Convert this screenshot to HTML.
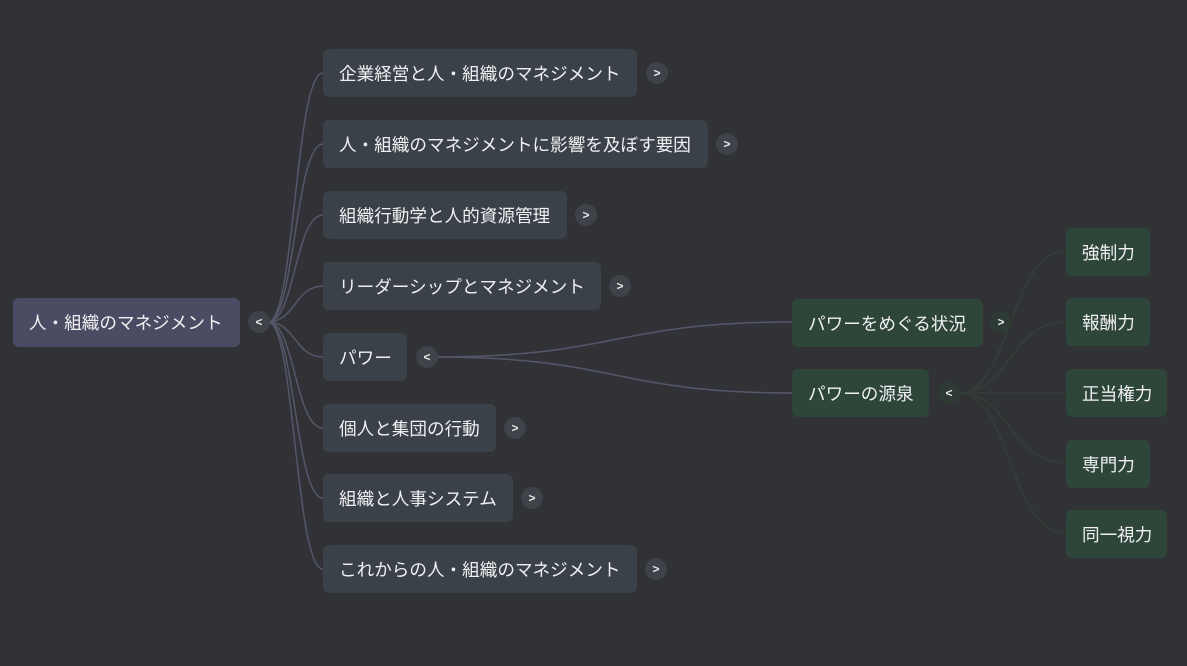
<!DOCTYPE html>
<html><head><meta charset="utf-8"><style>
html,body{margin:0;padding:0;background:#313236;width:1187px;height:666px;overflow:hidden}
body{position:relative;font-family:"Liberation Sans","Noto Sans CJK JP",sans-serif;color:#f0f0f2}
.n{position:absolute;height:48px;line-height:50px;border-radius:6px;font-size:17.6px;box-sizing:border-box;padding-left:16px;white-space:nowrap}
.r{background:#4b4b64}
.a{background:#3b4149}
.g{background:#2e463a}
.b{position:absolute;width:22px;height:22px;border-radius:50%;background:#404249;color:#e8e8ea;font-size:12px;font-weight:bold;text-align:center;line-height:22px;margin:-11px 0 0 -11px}
.bg{background:#2e3b34}
svg{position:absolute;left:0;top:0}
</style></head><body>
<svg width="1187" height="666">
<g fill="none" stroke="#56566a" stroke-width="1.5">
<path d="M268 322 C295 322,295 73,323 73"/>
<path d="M268 322 C295 322,295 144,323 144"/>
<path d="M268 322 C295 322,295 215,323 215"/>
<path d="M268 322 C295 322,295 286,323 286"/>
<path d="M268 322 C295 322,295 357,323 357"/>
<path d="M268 322 C295 322,295 428,323 428"/>
<path d="M268 322 C295 322,295 498,323 498"/>
<path d="M268 322 C295 322,295 569,323 569"/>
<path d="M437 357 C615 357,615 322,792 322"/>
<path d="M437 357 C615 357,615 393,792 393"/>
</g>
<g fill="none" stroke="#333c37" stroke-width="2">
<path d="M959 393 C1010 393,1010 251,1066 251"/>
<path d="M959 393 C1010 393,1010 322,1066 322"/>
<path d="M959 393 L1066 393"/>
<path d="M959 393 C1010 393,1010 463,1066 463"/>
<path d="M959 393 C1010 393,1010 533,1066 533"/>
</g>
</svg>
<div class="n r" style="left:13px;top:298px;width:227px;height:49px">人・組織のマネジメント</div>
<div class="b" style="left:259px;top:322px">&lt;</div>

<div class="n a" style="left:323px;top:49px;width:314px">企業経営と人・組織のマネジメント</div><div class="b" style="left:657px;top:73px">&gt;</div>
<div class="n a" style="left:323px;top:120px;width:385px">人・組織のマネジメントに影響を及ぼす要因</div><div class="b" style="left:727px;top:144px">&gt;</div>
<div class="n a" style="left:323px;top:191px;width:244px">組織行動学と人的資源管理</div><div class="b" style="left:586px;top:215px">&gt;</div>
<div class="n a" style="left:323px;top:262px;width:278px">リーダーシップとマネジメント</div><div class="b" style="left:620px;top:286px">&gt;</div>
<div class="n a" style="left:323px;top:333px;width:84px">パワー</div><div class="b" style="left:427px;top:357px">&lt;</div>
<div class="n a" style="left:323px;top:404px;width:173px">個人と集団の行動</div><div class="b" style="left:515px;top:428px">&gt;</div>
<div class="n a" style="left:323px;top:474px;width:190px">組織と人事システム</div><div class="b" style="left:532px;top:498px">&gt;</div>
<div class="n a" style="left:323px;top:545px;width:314px">これからの人・組織のマネジメント</div><div class="b" style="left:656px;top:569px">&gt;</div>

<div class="n g" style="left:792px;top:299px;width:191px">パワーをめぐる状況</div><div class="b bg" style="left:1001px;top:322px">&gt;</div>
<div class="n g" style="left:792px;top:369px;width:137px">パワーの源泉</div><div class="b bg" style="left:949px;top:393px">&lt;</div>

<div class="n g" style="left:1066px;top:228px;width:84px">強制力</div>
<div class="n g" style="left:1066px;top:298px;width:84px">報酬力</div>
<div class="n g" style="left:1066px;top:369px;width:101px">正当権力</div>
<div class="n g" style="left:1066px;top:440px;width:84px">専門力</div>
<div class="n g" style="left:1066px;top:510px;width:101px">同一視力</div>
</body></html>
